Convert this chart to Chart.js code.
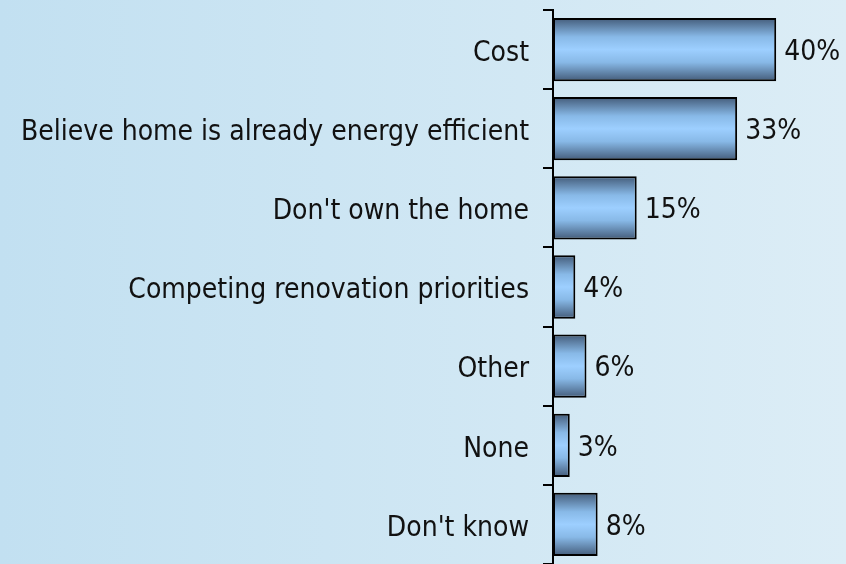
<!DOCTYPE html>
<html>
<head>
<meta charset="utf-8">
<script src="https://cdn.jsdelivr.net/npm/chart.js@4/dist/chart.umd.min.js"></script>
<style>
  html, body { margin: 0; padding: 0; overflow: hidden; }
  body { width: 846px; height: 564px; background: linear-gradient(to right, #c2e0f1, #dcedf6); }
  #wrap { position: relative; width: 846px; height: 564px; }
</style>
</head>
<body>
<div id="wrap"><canvas id="barChart"></canvas></div>
<script>
const reasons = ['Cost', 'Believe home is already energy efficient', "Don't own the home",
  'Competing renovation priorities', 'Other', 'None', "Don't know"]
const shares = [40, 33, 15, 4, 6, 3, 8]
const fontFamily = '"DejaVu Sans Condensed", "DejaVu Sans", sans-serif'
const BAR_PCT = 0.8

// degradado vertical tipo cilindro para cada barra
function barGradient (ctx) {
  const chart = ctx.chart
  const yScale = chart.scales.y
  if (!chart.chartArea || !yScale) return '#99ccff'
  const y = yScale.getPixelForValue(ctx.dataIndex)
  const band = (yScale.bottom - yScale.top) / reasons.length
  const half = band * BAR_PCT / 2
  const g = chart.ctx.createLinearGradient(0, y - half, 0, y + half)
  g.addColorStop(0, '#435b79')
  g.addColorStop(0.3, '#88b9e7')
  g.addColorStop(0.5, '#9dcfff')
  g.addColorStop(0.7, '#88b9e7')
  g.addColorStop(1, '#435b79')
  return g
}

// etiquetas de porcentaje al final de cada barra
const valueLabels = {
  id: 'valueLabels',
  afterDatasetsDraw (chart) {
    const { ctx } = chart
    const meta = chart.getDatasetMeta(0)
    ctx.save()
    ctx.font = '28px ' + fontFamily
    ctx.fillStyle = '#111111'
    ctx.textAlign = 'left'
    ctx.textBaseline = 'middle'
    meta.data.forEach((bar, i) => {
      ctx.fillText(shares[i] + '%', bar.x + 8, bar.y + 3)
    })
    ctx.restore()
  }
}

new Chart(document.getElementById('barChart'), {
  type: 'bar',
  data: {
    labels: reasons,
    datasets: [{
      data: shares,
      backgroundColor: barGradient,
      borderColor: '#000000',
      borderWidth: 2,
      borderSkipped: false,
      barPercentage: BAR_PCT,
      categoryPercentage: 1
    }]
  },
  options: {
    indexAxis: 'y',
    responsive: true,
    maintainAspectRatio: false,
    animation: false,
    layout: { padding: { top: 10, right: 14, bottom: 0, left: 0 } },
    plugins: { legend: { display: false }, tooltip: { enabled: false } },
    scales: {
      x: { display: false, min: 0, max: 50 },
      y: {
        afterFit (scale) {
          scale.width = 553
          scale.paddingTop = 0
          scale.paddingBottom = 0
        },
        border: { display: true, color: '#000000', width: 2 },
        grid: { offset: true, drawOnChartArea: false, tickLength: 10, color: '#000000', lineWidth: 2 },
        ticks: { color: '#111111', padding: 14, labelOffset: 4, font: { family: fontFamily, size: 28 } }
      }
    }
  },
  plugins: [valueLabels]
})
</script>
</body>
</html>
